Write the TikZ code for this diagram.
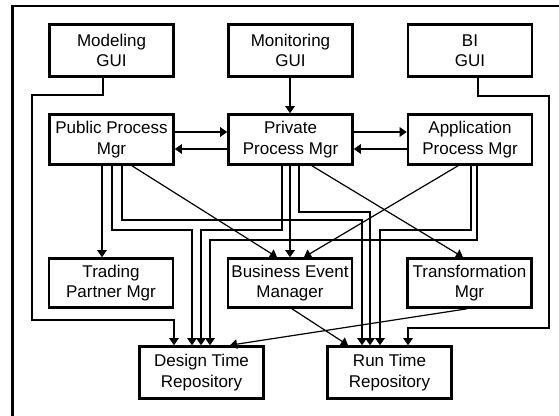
\documentclass[tikz,border=0pt]{standalone}
\usepackage{fontspec}
\setmainfont{Liberation Sans}
\usetikzlibrary{arrows.meta}
\begin{document}
\begin{tikzpicture}[x=1pt,y=-1pt,
  box/.style={draw, line width=2.6pt, minimum width=124pt, minimum height=52pt,
    inner sep=0pt, align=center, font=\fontsize{17}{20.5}\selectfont},
  conn/.style={line width=1.2pt, -{Triangle[width=9.5pt,length=7pt]}},
  frame/.style={line width=2.4pt}]
\useasboundingbox (0,0) rectangle (559,415);

% outer frame (top and left edges)
\draw[frame] (12.5,420) -- (12.5,6) -- (565,6);

% user interfaces
\node[box] (mgui)   at (111.5,50.5) {Modeling\\GUI};
\node[box] (mongui) at (290.5,50.5) {Monitoring\\GUI};
\node[box] (bigui)  at (470,50.5)   {BI\\GUI};

% process managers
\node[box, minimum height=50pt] (pub)  at (111.5,139.5) {Public Process\\Mgr};
\node[box, minimum height=50pt] (priv) at (290.5,139.5) {Private\\Process Mgr};
\node[box, minimum height=50pt] (app)  at (470,139.5)   {Application\\Process Mgr};

% supporting services
\node[box, minimum height=49pt] (tpm) at (111,283)   {Trading\\Partner Mgr};
\node[box, minimum height=49pt] (bem) at (290,283)   {Business Event\\Manager};
\node[box, minimum height=49pt] (tfm) at (469.5,283) {Transformation\\Mgr};

% repositories
\node[box] (dtr) at (201.5,372.5) {Design Time\\Repository};
\node[box] (rtr) at (389.5,372.5) {Run Time\\Repository};

% GUIs
\draw[conn] (mgui.south -| 103,0) |- (32,95) |- (174,320) -- (dtr.north -| 174,0);
\draw[conn] (mongui.south -| 290,0) -- (priv.north -| 290,0);
\draw[conn] (bigui.south -| 478,0) |- (549,96) |- (408,328) -- (rtr.north -| 408,0);

% between process managers
\draw[conn] (pub.east |- 0,132) -- (priv.west |- 0,132);
\draw[conn] (priv.west |- 0,149) -- (pub.east |- 0,149);
\draw[conn] (priv.east |- 0,132) -- (app.west |- 0,132);
\draw[conn] (app.west |- 0,149) -- (priv.east |- 0,149);

% public process manager
\draw[conn] (pub.south -| 102,0) -- (tpm.north -| 102,0);
\draw[conn] (pub.south -| 112,0) |- (192,230) -- (dtr.north -| 192,0);
\draw[conn] (pub.south -| 122,0) |- (362,220) -- (rtr.north -| 362,0);
\draw[conn] (pub.south -| 132,0) -- (bem.north -| 277,0);

% private process manager
\draw[conn] (priv.south -| 282,0) |- (201,230) -- (dtr.north -| 201,0);
\draw[conn] (priv.south -| 290,0) -- (bem.north -| 290,0);
\draw[conn] (priv.south -| 299,0) |- (370,212) -- (rtr.north -| 370,0);
\draw[conn] (priv.south -| 312,0) -- (tfm.north -| 463,0);

% application process manager
\draw[conn] (app.south -| 471,0) |- (380,230) -- (rtr.north -| 380,0);
\draw[conn] (app.south -| 477,0) |- (210,240) -- (dtr.north -| 210,0);
\draw[conn] (app.south -| 458,0) -- (bem.north -| 304,0);

% services to repositories
\draw[conn] (bem.south -| 292,0) -- (rtr.north -| 348,0);
\draw[conn] (tfm.south -| 467,0) -- (dtr.north -| 230,0);
\end{tikzpicture}
\end{document}
